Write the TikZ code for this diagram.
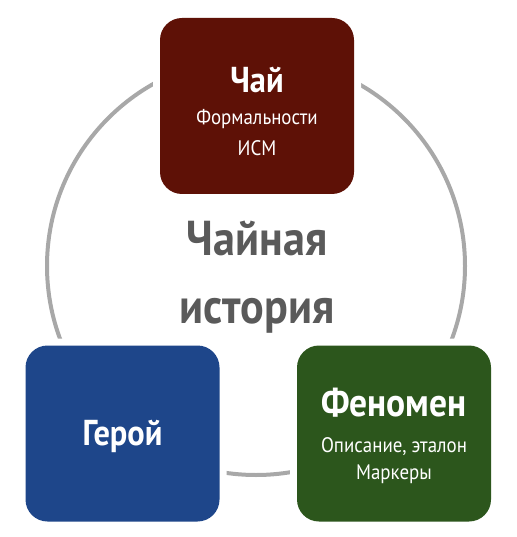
\documentclass[tikz,border=0pt]{standalone}
\usepackage{fontspec}
\setmainfont{PT Sans}[FakeStretch=0.9]
\usepackage{xcolor}
\usetikzlibrary{positioning}
\definecolor{teared}{RGB}{94, 17, 6}
\definecolor{herblue}{RGB}{30, 70, 138}
\definecolor{phegreen}{RGB}{44, 86, 28}
\definecolor{ringgray}{RGB}{168, 168, 168}
\definecolor{midgray}{RGB}{90, 90, 90}
\tikzset{
    topicbox/.style={rounded corners=22pt, minimum width=194pt, minimum height=176pt,
        preaction={draw=white, line width=14pt}},
    teabox/.style={topicbox, fill=teared},
    herobox/.style={topicbox, fill=herblue},
    phenobox/.style={topicbox, fill=phegreen},
    headtext/.style={anchor=base, text=white, font=\bfseries, inner sep=0pt},
    subtext/.style={anchor=base, text=white, font=\fontsize{21}{24}\selectfont, inner sep=0pt},
    bigtext/.style={anchor=base, text=midgray, font=\fontsize{49}{52}\selectfont\bfseries, inner sep=0pt}
}

\begin{document}
\begin{tikzpicture}[x=1pt, y=-1pt]
    \useasboundingbox (0,0) rectangle (516,537);
    % ring behind the boxes
    \draw[ringgray, line width=4pt] (256,266) circle (209);
    % boxes
    \node[teabox] (tea) at (257,106) {};
    \node[herobox] (hero) at (122.5,433.5) {};
    \node[phenobox] (pheno) at (394,433.5) {};
    % texts
    \node[headtext, font=\fontsize{36}{40}\selectfont\bfseries] (teahead) at (257,92.5) {Чай};
    \node[subtext] (tealine1) at (257,125) {Формальности};
    \node[subtext] (tealine2) at (257,156) {ИСМ};
    \node[headtext, font=\fontsize{36}{40}\selectfont\bfseries] (herohead) at (122.5,445) {Герой};
    \node[headtext, font=\fontsize{39.5}{42}\selectfont\bfseries] (phenohead) at (394,416) {Феномен};
    \node[subtext] (phenoline1) at (394,452) {Описание, эталон};
    \node[subtext] (phenoline2) at (394,479) {Маркеры};
    \node[bigtext] (story1) at (257,255) {Чайная};
    \node[bigtext] (story2) at (257,323) {история};
\end{tikzpicture}
\end{document}
